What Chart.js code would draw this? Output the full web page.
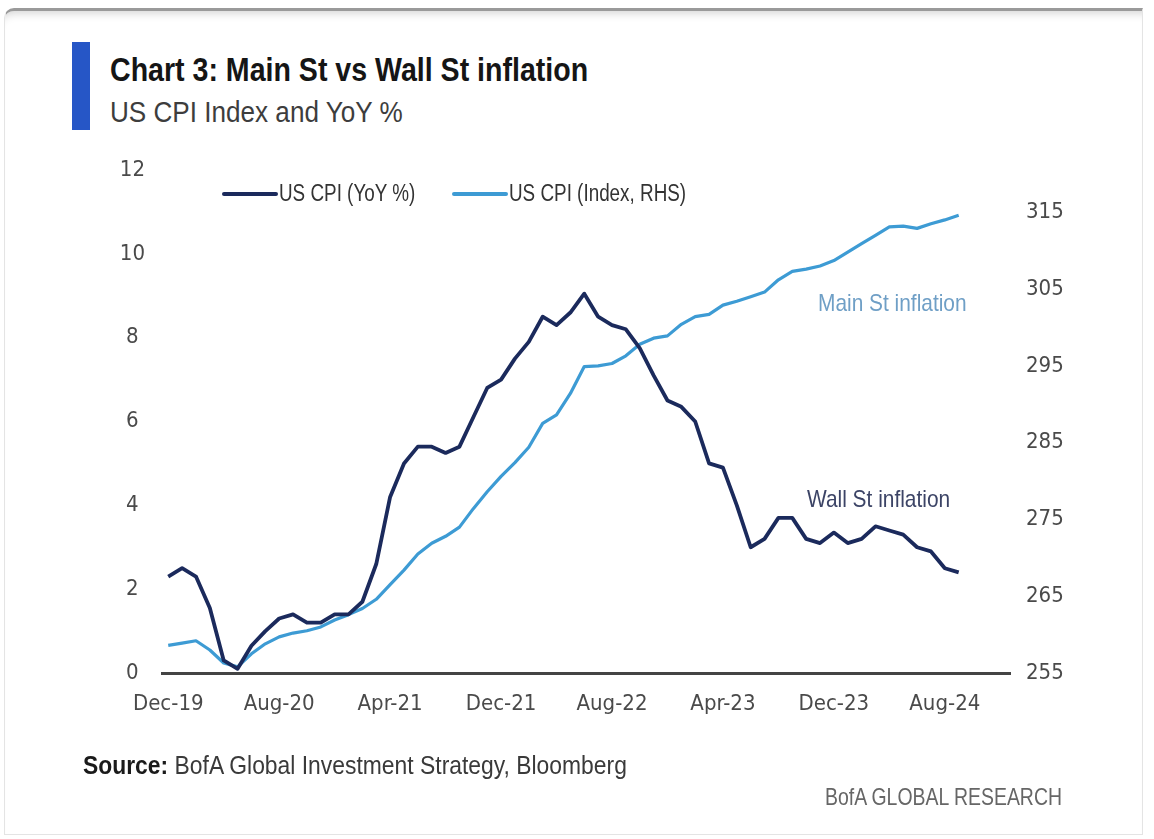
<!DOCTYPE html>
<html lang="en">
<head>
<meta charset="UTF-8">
<title>Main St vs Wall St inflation</title>
<script src="https://cdn.jsdelivr.net/npm/chart.js"></script>
<style>
  html, body { margin: 0; padding: 0; background: #fff; }
  body {
    width: 1154px; height: 839px; position: relative; overflow: hidden;
    font-family: "Liberation Sans", Arial, sans-serif;
  }
  .card {
    position: absolute; left: 4px; top: 8px; width: 1139px; height: 827px;
    box-sizing: border-box; border: 1px solid #e4e4e4; border-top: 3px solid #9a9a9a;
    border-radius: 10px 0 0 0;
    box-shadow: inset 0 10px 10px -8px rgba(0, 0, 0, 0.18);
  }
  .bar { position: absolute; left: 72px; top: 42px; width: 18px; height: 88px; background: #2656c6; }
  /* narrow text: squeeze a regular face horizontally */
  .txt { position: absolute; line-height: 1; white-space: nowrap; transform-origin: 0 50%; }
  .title { left: 110px; top: 52px; font-size: 34px; font-weight: bold; color: #151515; transform: scaleX(0.84); }
  .subtitle { left: 110px; top: 97px; font-size: 30px; color: #3d3d3d; transform: scaleX(0.87); }
  .legend { top: 182px; font-size: 23px; color: #333; transform: scaleX(0.82); }
  .swatch { position: absolute; height: 4px; border-radius: 2px; }
  .note { font-size: 24px; transform: scaleX(0.87); }
  .source { left: 83px; top: 752px; font-size: 26px; color: #3a3a3a; transform: scaleX(0.88); }
  .source b { color: #1a1a1a; }
  .brand { left: 825px; top: 785px; font-size: 24px; color: #666; transform: scaleX(0.81); }
  #chart { position: absolute; left: 0; top: 0; }
</style>
</head>
<body>
<div class="card"></div>
<div class="bar"></div>
<div class="txt title">Chart 3: Main St vs Wall St inflation</div>
<div class="txt subtitle">US CPI Index and YoY %</div>

<canvas id="chart" width="1154" height="839"></canvas>

<div class="swatch" style="left:222px; top:192px; width:56px; background:#1b2a5c;"></div>
<div class="txt legend" style="left:279px;">US CPI (YoY %)</div>
<div class="swatch" style="left:452px; top:192px; width:56px; background:#3d9bd4;"></div>
<div class="txt legend" style="left:509px;">US CPI (Index, RHS)</div>

<div class="txt note" style="left:818px; top:291px; color:#6f9fc6;">Main St inflation</div>
<div class="txt note" style="left:807px; top:487px; color:#3c4466;">Wall St inflation</div>

<div class="txt source"><b>Source:</b> BofA Global Investment Strategy, Bloomberg</div>
<div class="txt brand">BofA GLOBAL RESEARCH</div>

<script>
// monthly, Dec-19 .. Sep-24
const months = [
  'Dec-19',
  'Jan-20', 'Feb-20', 'Mar-20', 'Apr-20', 'May-20', 'Jun-20', 'Jul-20', 'Aug-20', 'Sep-20', 'Oct-20', 'Nov-20', 'Dec-20',
  'Jan-21', 'Feb-21', 'Mar-21', 'Apr-21', 'May-21', 'Jun-21', 'Jul-21', 'Aug-21', 'Sep-21', 'Oct-21', 'Nov-21', 'Dec-21',
  'Jan-22', 'Feb-22', 'Mar-22', 'Apr-22', 'May-22', 'Jun-22', 'Jul-22', 'Aug-22', 'Sep-22', 'Oct-22', 'Nov-22', 'Dec-22',
  'Jan-23', 'Feb-23', 'Mar-23', 'Apr-23', 'May-23', 'Jun-23', 'Jul-23', 'Aug-23', 'Sep-23', 'Oct-23', 'Nov-23', 'Dec-23',
  'Jan-24', 'Feb-24', 'Mar-24', 'Apr-24', 'May-24', 'Jun-24', 'Jul-24', 'Aug-24', 'Sep-24'
];

// US CPI, YoY %
const cpiYoy = [
  2.3,
  2.5, 2.3, 1.55, 0.3, 0.1, 0.65, 1.0, 1.3, 1.4, 1.2, 1.2, 1.4,
  1.4, 1.7, 2.6, 4.2, 5.0, 5.4, 5.4, 5.25, 5.4, 6.1, 6.8, 7.0,
  7.5, 7.9, 8.5, 8.3, 8.6, 9.05, 8.5, 8.3, 8.2, 7.75, 7.1, 6.5,
  6.35, 6.0, 5.0, 4.9, 4.0, 3.0, 3.2, 3.7, 3.7, 3.2, 3.1, 3.35,
  3.1, 3.2, 3.5, 3.4, 3.3, 3.0, 2.9, 2.5, 2.4
];

// US CPI index level (right axis)
const cpiIndex = [
  258.6,
  258.9, 259.2, 258.0, 256.3, 255.8, 257.5, 258.8, 259.7, 260.2, 260.5, 261.0, 261.9,
  262.6, 263.4, 264.6, 266.5, 268.4, 270.5, 271.9, 272.8, 274.0, 276.4, 278.6, 280.6,
  282.4, 284.4, 287.5, 288.6, 291.4, 294.9, 295.0, 295.3, 296.3, 297.8, 298.6, 298.9,
  300.4, 301.4, 301.7, 302.9, 303.4, 304.0, 304.6, 306.2, 307.3, 307.6, 308.0, 308.7,
  309.8, 310.9, 312.0, 313.1, 313.2, 312.9, 313.5, 314.0, 314.6
];

const leftTicks = [0, 2, 4, 6, 8, 10, 12];
const rightTicks = [255, 265, 275, 285, 295, 305, 315];
const xTickEvery = 8;

const tickFont = { family: '"DejaVu Sans Condensed", "DejaVu Sans", sans-serif', size: 22 };
const tickColor = '#4a4a4a';

const toPoints = arr => arr.map((v, i) => ({ x: i, y: v }));

new Chart(document.getElementById('chart'), {
  type: 'line',
  data: {
    datasets: [
      {
        label: 'US CPI (YoY %)',
        data: toPoints(cpiYoy),
        yAxisID: 'y',
        borderColor: '#1b2a5c',
        borderWidth: 3.8,
        pointRadius: 0,
        borderJoinStyle: 'round'
      },
      {
        label: 'US CPI (Index, RHS)',
        data: toPoints(cpiIndex),
        yAxisID: 'y1',
        borderColor: '#3d9bd4',
        borderWidth: 3.2,
        pointRadius: 0,
        borderJoinStyle: 'round'
      }
    ]
  },
  options: {
    responsive: false,
    animation: false,
    devicePixelRatio: 1,
    layout: { padding: { top: 170, left: 0, right: 0, bottom: 0 } },
    plugins: {
      legend: { display: false },
      tooltip: { enabled: false }
    },
    scales: {
      x: {
        type: 'linear',
        min: -0.45,
        max: 60.7,
        grid: { display: false, drawTicks: false },
        border: { display: true, color: '#444', width: 3 },
        afterBuildTicks: s => {
          s.ticks = months.map((m, i) => i).filter(i => i % xTickEvery === 0).map(v => ({ value: v }));
        },
        afterFit: s => { s.height = 839 - 673; },
        ticks: {
          font: tickFont,
          color: tickColor,
          padding: 18,
          maxRotation: 0,
          autoSkip: false,
          callback: v => months[v]
        }
      },
      y: {
        position: 'left',
        min: 0,
        max: 12,
        grid: { display: false, drawTicks: false },
        border: { display: false },
        afterBuildTicks: s => { s.ticks = leftTicks.map(v => ({ value: v })); },
        afterFit: s => { s.width = 162; },
        ticks: { font: tickFont, color: tickColor, padding: 17, crossAlign: 'center' }
      },
      y1: {
        position: 'right',
        min: 255,
        max: 320.5,
        grid: { display: false, drawTicks: false },
        border: { display: false },
        afterBuildTicks: s => { s.ticks = rightTicks.map(v => ({ value: v })); },
        afterFit: s => { s.width = 1154 - 1010; },
        ticks: { font: tickFont, color: tickColor, padding: 16 }
      }
    }
  }
});
</script>
</body>
</html>
